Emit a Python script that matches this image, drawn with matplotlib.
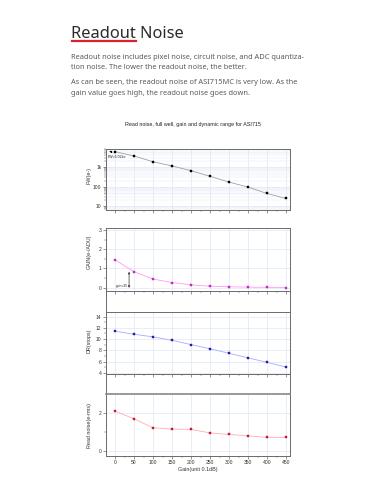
import matplotlib
matplotlib.use("Agg")
import matplotlib.pyplot as plt
import numpy as np
from matplotlib.ticker import FixedLocator, NullFormatter, LogLocator

W, H = 381, 492

gain_x = [0, 50, 100, 150, 200, 250, 300, 350, 400, 450]
full_well = [6020, 3600, 1850, 1130, 650, 335, 170, 95, 45, 25]
gain_e_adu = [1.45, 0.83, 0.45, 0.27, 0.15, 0.08, 0.05, 0.03, 0.02, 0.01]
dyn_range = [11.4, 10.87, 10.4, 9.8, 9.03, 8.3, 7.5, 6.7, 5.9, 5.07]
read_noise = [2.1, 1.7, 1.23, 1.16, 1.14, 0.96, 0.88, 0.81, 0.72, 0.72]
x_ticks = [0, 50, 100, 150, 200, 250, 300, 350, 400, 450]

header = "Readout Noise"
para = ["Readout noise includes pixel noise, circuit noise, and ADC quantiza-",
        "tion noise. The lower the readout noise, the better.",
        "As can be seen, the readout noise of ASI715MC is very low. As the",
        "gain value goes high, the readout noise goes down."]
chart_title = "Read noise, full well, gain and dynamic range for ASI715"

fig = plt.figure(figsize=(W / 100, H / 100), dpi=100)
fig.patch.set_facecolor("white")

def fx(px): return px / W
def fy(py): return 1 - py / H

# Header
fig.text(fx(71), fy(38), header, fontsize=11.8, family="Noto Sans", color="#2b2b2b", va="baseline")
fig.add_artist(plt.Line2D([fx(72), fx(136)], [fy(41.3), fy(41.3)], color="#d9232e", lw=1.6))
for txt, yb in zip(para, [59, 69.5, 84, 94.5]):
    fig.text(fx(71), fy(yb), txt, fontsize=5.35, family="Noto Sans", color="#5a5a5a", va="baseline")

fig.text(fx(193), fy(126), chart_title, fontsize=3.9, family="Liberation Sans", color="#222", ha="center", va="baseline")

XL = (-23.7, 460.5)
left, right = 106, 290
frame_c = "#6a6a6a"
grid_c = "#d3e3f3"
tick_fs = 3.6

def make_ax(top, bottom, auto_grid=True):
    ax = fig.add_axes([fx(left), fy(bottom), (right - left) / W, (bottom - top) / H])
    ax.set_xlim(*XL)
    for s in ax.spines.values():
        s.set_color(frame_c)
        s.set_linewidth(0.7)
    ax.xaxis.set_major_locator(FixedLocator(x_ticks))
    ax.xaxis.set_minor_locator(FixedLocator([25 + 50 * i for i in range(9)]))
    ax.tick_params(axis="both", which="major", length=2, width=0.4, color="#444", labelsize=tick_fs, pad=1.2, labelcolor="#333")
    ax.tick_params(axis="both", which="minor", length=1.2, width=0.3, color="#444")
    ax.tick_params(axis="x", which="both", labelbottom=False)
    if auto_grid:
        ax.grid(True, which="major", color=grid_c, lw=0.4)
    ax.set_axisbelow(True)
    return ax

def manual_grid(ax, y0, y1, yvals):
    ax.vlines(x_ticks, y0, y1, colors=grid_c, lw=0.4, zorder=0)
    ax.hlines(yvals, XL[0], XL[1], colors=grid_c, lw=0.4, zorder=0)

# FW panel
ax1 = make_ax(149, 210)
ax1.set_yscale("log")
ax1.set_ylim(6.5, 8200)
ax1.yaxis.set_major_locator(FixedLocator([10, 100, 1000]))
ax1.set_yticklabels(["10", "100", "1k"], family="Liberation Sans")
ax1.yaxis.set_minor_locator(LogLocator(base=10, subs=np.arange(2, 10)))
ax1.yaxis.set_minor_formatter(NullFormatter())
ax1.grid(True, which="minor", axis="y", color="#e0eaf6", lw=0.35)
ax1.plot(gain_x, full_well, color="#a0a0a0", lw=0.6, marker="s", ms=2.0, mew=0.3, mfc="black", mec="black", zorder=3)
ax1.annotate("", xy=(XL[0] + 1, full_well[0]), xytext=(gain_x[0] - 3, full_well[0]),
             arrowprops=dict(arrowstyle="-|>", lw=0.6, ls="--", color="black", mutation_scale=3))
ax1.text(-20, 3300, "FW=6.02ke", fontsize=2.6, family="Liberation Sans", color="#222", va="center")

# GAIN panel
ax2 = make_ax(228, 312, auto_grid=False)
ax2.set_ylim(-1.26, 3.1)
ax2.spines["bottom"].set_position(("data", -0.17))
manual_grid(ax2, -0.17, 3.1, [0, 1, 2, 3])
ax2.yaxis.set_major_locator(FixedLocator([0, 1, 2, 3]))
ax2.yaxis.set_minor_locator(FixedLocator([0.5, 1.5, 2.5]))
ax2.set_yticklabels(["0", "1", "2", "3"], family="Liberation Sans")
ax2.plot(gain_x, gain_e_adu, color="#ff9cf0", lw=0.6, marker="s", ms=1.9, mew=0.3, mfc="#c02cc0", mec="#c02cc0", zorder=3)
ax2.annotate("", xy=(37, 0.97), xytext=(37, -0.15),
             arrowprops=dict(arrowstyle="<|-|>", lw=0.5, color="#333", mutation_scale=2.5))
ax2.text(34, 0.08, "gain=35", fontsize=2.4, family="Liberation Sans", color="#222", ha="right", va="center")

# DR panel
ax3 = make_ax(312, 394, auto_grid=False)
ax3.set_ylim(0.3, 14.8)
ax3.spines["bottom"].set_position(("data", 3.8))
manual_grid(ax3, 3.8, 14.8, [4, 6, 8, 10, 12, 14])
ax3.yaxis.set_major_locator(FixedLocator([4, 6, 8, 10, 12, 14]))
ax3.yaxis.set_minor_locator(FixedLocator([5, 7, 9, 11, 13]))
ax3.set_yticklabels(["4", "6", "8", "10", "12", "14"], family="Liberation Sans")
ax3.plot(gain_x, dyn_range, color="#a9a9ff", lw=0.6, marker="s", ms=1.9, mew=0.3, mfc="#1f1fa0", mec="#1f1fa0", zorder=3)

# RN panel
ax4 = make_ax(394, 456)
ax4.set_ylim(-0.25, 3.0)
ax4.yaxis.set_major_locator(FixedLocator([0, 2]))
ax4.yaxis.set_minor_locator(FixedLocator([1]))
ax4.set_yticklabels(["0", "2"], family="Liberation Sans")
ax4.spines["top"].set_linewidth(1.2)
ax4.spines["top"].set_color("#888")
ax4.plot(gain_x, read_noise, color="#ffb0b0", lw=0.6, marker="s", ms=1.9, mew=0.3, mfc="#c8153a", mec="#c8153a", zorder=3)
ax4.tick_params(axis="x", which="major", labelbottom=True)
ax4.set_xticklabels([str(v) for v in x_ticks], family="Liberation Sans")

# Axis labels
lab_kw = dict(fontsize=3.9, family="Liberation Sans", color="#333", rotation=90, ha="center", va="center")
fig.text(fx(89), fy(176), "FW(e-)", **lab_kw)
fig.text(fx(89), fy(252), "GAIN(e-/ADU)", **lab_kw)
fig.text(fx(89), fy(341), "DR(stops)", **lab_kw)
fig.text(fx(89), fy(425), "Read noise(e-rms)", **lab_kw)
fig.text(fx(198), fy(470), "Gain(unit 0.1dB)", fontsize=3.9, family="Liberation Sans", color="#333", ha="center", va="center")

fig.savefig("out.png", dpi=100, facecolor="white")
